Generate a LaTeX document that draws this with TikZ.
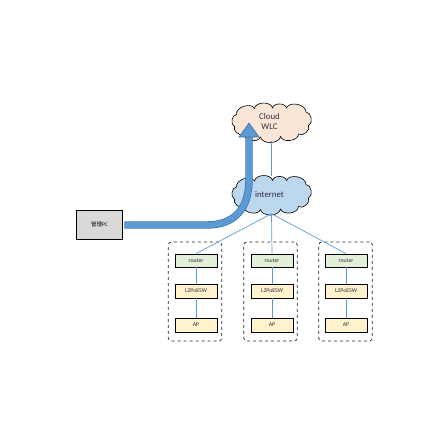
\documentclass[tikz,border=0pt]{standalone}
\usepackage{fontspec}
\setmainfont{Carlito}
\newfontfamily\cjkfont{Noto Sans CJK SC}
\definecolor{linkblue}{HTML}{5B9BD5}
\definecolor{arrowedge}{HTML}{41719C}
\definecolor{wlcfill}{HTML}{FBE5D6}
\definecolor{netfill}{HTML}{BDD7EE}
\definecolor{routerfill}{HTML}{E2F0D9}
\definecolor{devfill}{HTML}{FFF2CC}
\definecolor{pcfill}{HTML}{D9D9D9}
\definecolor{softtext}{HTML}{303040}
\newcommand{\cloudoutline}[2]{%
  \draw[fill=#2,draw=black,line width=.6pt,line join=round,shift={(#1)}]
    (-37,-4) to[bend left=80] (-35,8) to[bend left=80] (-17,14) to[bend left=80] (1,14.5)
    to[bend left=80] (15,14.5) to[bend left=80] (34.5,10.5) to[bend left=80] (37,-3)
    to[bend left=80] (27,-11.5) to[bend left=80] (9,-14) to[bend left=80] (-11,-14.5)
    to[bend left=80] (-28,-11.5) to[bend left=80] cycle;}
\tikzset{
  x=1pt,y=1pt,
  cloudnode/.style={inner sep=0pt,minimum width=79pt,minimum height=37pt,font=\fontsize{8.8}{9.5}\selectfont,text=softtext},
  devbox/.style={draw=black,line width=.7pt,minimum width=42pt,inner sep=0pt,font=\fontsize{5.8}{6}\selectfont,text=softtext},
  routerbox/.style={devbox,fill=routerfill,minimum height=13pt},
  swbox/.style={devbox,fill=devfill,minimum height=14pt},
  grpbox/.style={draw=black!85,dashed,line width=.7pt,rounded corners=3pt,minimum width=53.5pt,minimum height=99pt,inner sep=0pt},
  pcbox/.style={draw=black,line width=.8pt,fill=pcfill,minimum width=46pt,minimum height=29pt,inner sep=0pt,font=\fontsize{5.5}{6}\selectfont},
  link/.style={draw=linkblue,line width=.7pt}
}
\begin{document}
\begin{tikzpicture}
\useasboundingbox (0,0) rectangle (448,448);
% groups
\node[grpbox] (g1) at (195,156.5) {};
\node[grpbox] (g2) at (270.5,156.5) {};
\node[grpbox] (g3) at (345.5,156.5) {};
% clouds
\coordinate (wlcpos) at (271.5,325.5);
\coordinate (netpos) at (271.5,253);
\cloudoutline{wlcpos}{wlcfill}
\cloudoutline{netpos}{netfill}
\node[cloudnode] (wlc) at (wlcpos) {\raisebox{1.5pt}{\begin{tabular}{@{}c@{}}Cloud\\WLC\end{tabular}}\hspace*{4pt}};
\node[cloudnode] (net) at (netpos) {\raisebox{1pt}{internet}\hspace*{4pt}};
% devices
\foreach \n/\cx in {1/196,2/272,3/346}{
  \node[routerbox] (r\n) at (\cx,187.5) {router};
  \node[swbox] (s\n) at (\cx,157) {L2PoESW};
  \node[swbox] (a\n) at (\cx,123) {AP};
  \draw[link] (r\n) -- (s\n);
  \draw[link] (s\n) -- (a\n);
}
\draw[link] (wlc.south) -- (net.north);
\draw[link] (net.south) -- (r1.north);
\draw[link] (net.south) -- (r2.north);
\draw[link] (net.south) -- (r3.north);
% PC
\node[pcbox] (pc) at (99.5,223.5) {{\cjkfont 管理}PC};
% big arrow
\coordinate (tip) at (249,325);
\coordinate (head) at (249,311);
\draw[arrowedge,line width=7.4pt] ([xshift=1.5pt,yshift=-.5pt]pc.east) -- (207,223) .. controls (235,223) and (249,240) .. (249,268) -- (head);
\draw[linkblue,line width=6pt] ([xshift=2.2pt,yshift=-.5pt]pc.east) -- (207,223) .. controls (235,223) and (249,240) .. (249,268) -- (head);
\fill[linkblue,draw=arrowedge,line width=.6pt,line join=miter] (tip) -- (259,311) -- (239,311) -- cycle;
\end{tikzpicture}
\end{document}
